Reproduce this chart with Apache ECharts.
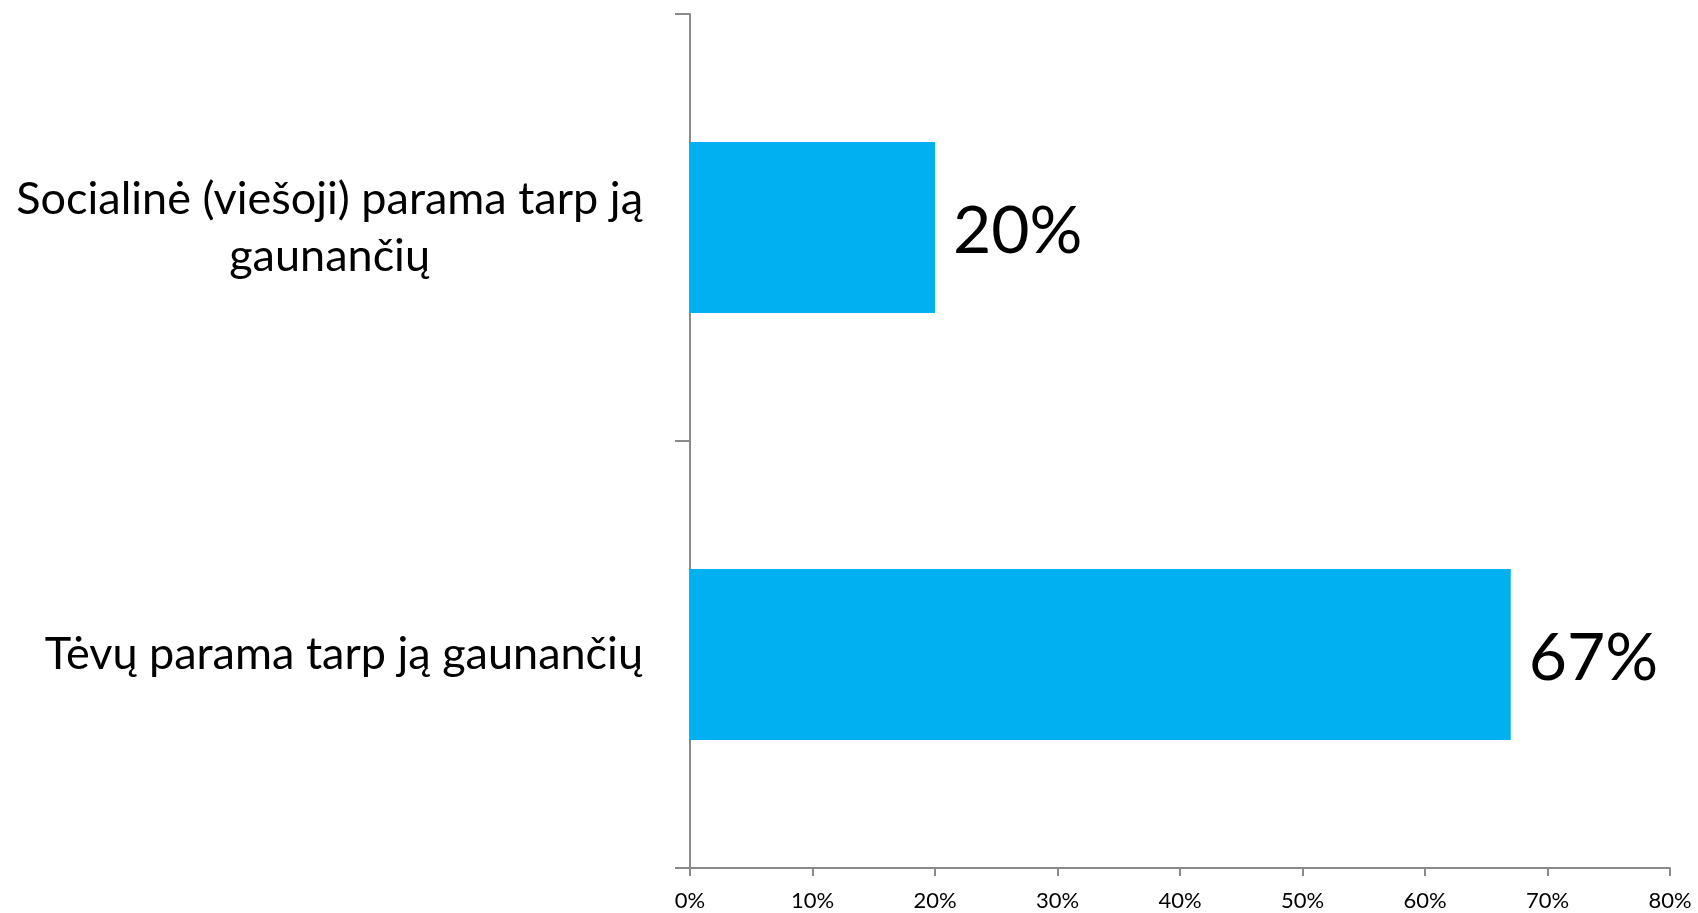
<!DOCTYPE html>
<html>
<head>
<meta charset="utf-8">
<script src="https://cdn.jsdelivr.net/npm/echarts@6/dist/echarts.min.js"></script>
<style>html,body{margin:0;padding:0;background:#fff}#c{width:1698px;height:913px}</style>
</head>
<body>
<div id="c"></div>
<script>
const categories = ['Tėvų parama tarp ją gaunančių', 'Socialinė (viešoji) parama tarp ją\ngaunančių'];
const values = [67, 20];
const xTicks = { min: 0, max: 80, interval: 10 };

const chart = echarts.init(document.getElementById('c'), null, { renderer: 'canvas' });
const axisColor = '#8a8a8a';
chart.setOption({
  animation: false,
  backgroundColor: '#ffffff',
  grid: { left: 690, right: 28, top: 14, bottom: 45, containLabel: false },
  xAxis: {
    type: 'value', min: xTicks.min, max: xTicks.max, interval: xTicks.interval,
    axisLine: { show: true, lineStyle: { color: axisColor, width: 2 } },
    axisTick: { show: true, length: 8, lineStyle: { color: axisColor, width: 2 } },
    splitLine: { show: false },
    axisLabel: { formatter: '{value}%', color: '#000', fontFamily: 'Lato', fontSize: 22, margin: 22 }
  },
  yAxis: {
    type: 'category', data: categories,
    axisLine: { show: true, lineStyle: { color: axisColor, width: 2 } },
    axisTick: { show: true, length: 15, lineStyle: { color: axisColor, width: 2 } },
    axisLabel: {
      color: '#000', fontFamily: 'Lato', fontSize: 45, margin: 47, lineHeight: 57,
      formatter: function (v) { return v.split('\n').map(s => '{a|' + s + '}').join('\n'); },
      rich: { a: { align: 'center', fontFamily: 'Lato', fontSize: 45, lineHeight: 57, color: '#000' } }
    }
  },
  series: [{
    type: 'bar', data: values, barCategoryGap: '60%',
    itemStyle: { color: '#00B0F0' },
    label: { show: true, position: 'right', distance: 18, offset: [0, 4], formatter: '{c}%', color: '#000', fontFamily: 'Lato', fontSize: 66 }
  }]
});
</script>
</body>
</html>
